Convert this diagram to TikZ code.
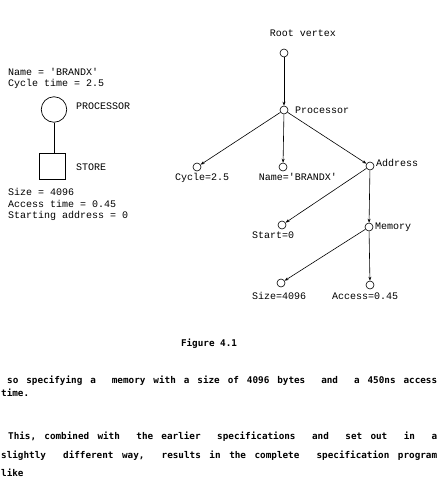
\documentclass[tikz,border=0pt]{standalone}
\usepackage{fontspec}
\setmainfont{Liberation Mono}
\newfontfamily\printfont{DejaVu Sans Mono}
\usetikzlibrary{arrows.meta}
\tikzset{
  tw/.style={font=\fontsize{10}{12}\selectfont, inner sep=0pt},
  vtx/.style={circle, draw, line width=0.6pt, minimum size=8pt, inner sep=0pt},
  edge/.style={line width=0.6pt, -{Stealth[length=4pt,width=3pt]}},
  prt/.style={font=\printfont\bfseries\fontsize{9.3}{10}\selectfont, inner sep=0pt, anchor=west},
}
\begin{document}
\begin{tikzpicture}[x=1pt,y=-1pt]
\useasboundingbox (0,0) rectangle (445,482);
% left diagram
\node[tw, anchor=west] (n1) at (8,72) {Name = \textquotesingle BRANDX\textquotesingle};
\node[tw, anchor=west] (n2) at (8,84) {Cycle time = 2.5};
\node[circle, draw, line width=0.7pt, minimum size=25.5pt, inner sep=0pt] (P) at (54,109.5) {};
\node[tw, anchor=west] (pl) at (76,106) {PROCESSOR};
\node[draw, line width=0.7pt, minimum size=25.5pt, inner sep=0pt] (S) at (52.5,166.5) {};
\node[tw, anchor=west] (sl) at (76,167) {STORE};
\draw[line width=0.7pt] (P.south) -- (P.south |- S.north);
\node[tw, anchor=west] (s1) at (8,192) {Size = 4096};
\node[tw, anchor=west] (s2) at (8,204) {Access time = 0.45};
\node[tw, anchor=west] (s3) at (8,216) {Starting address = 0};
% tree
\node[tw] (rl) at (303,33) {Root vertex};
\node[vtx] (R) at (284,53) {};
\node[vtx] (Pr) at (284,110) {};
\node[tw, anchor=west] at (295,110) {Processor};
\node[vtx] (C) at (197,167) {};
\node[tw, anchor=west] at (175,177.5) {Cycle=2.5};
\node[vtx] (N) at (283,167) {};
\node[tw] at (298,177) {Name=\textquotesingle BRANDX\textquotesingle};
\node[vtx] (A) at (370,166) {};
\node[tw, anchor=west] at (376,163) {Address};
\node[vtx] (St) at (282,225) {};
\node[tw, anchor=west] at (252,235.5) {Start=0};
\node[vtx] (M) at (369,227) {};
\node[tw, anchor=west] at (375,227.5) {Memory};
\node[vtx] (Sz) at (281,283) {};
\node[tw, anchor=west] at (252,296) {Size=4096};
\node[vtx] (Ac) at (370,285) {};
\node[tw, anchor=west] at (332,296) {Access=0.45};
\draw[edge] (R) -- (Pr);
\draw[edge] (Pr) -- (C);
\draw[edge] (Pr) -- (N);
\draw[edge] (Pr) -- (A);
\draw[edge] (A) -- (St);
\draw[edge] (A) -- (M);
\draw[edge] (M) -- (Sz);
\draw[edge] (M) -- (Ac);
% caption and text
\node[prt, anchor=center] (fig) at (209,344) {Figure 4.1};
\node[prt] (t1) at (7,381) {\hbox to 430pt{so\hfill specifying\hfill a\hfill\hfill memory\hfill with\hfill a\hfill size\hfill of\hfill 4096\hfill bytes\hfill\hfill and\hfill\hfill a\hfill 450ns\hfill access}};
\node[prt] (t2) at (1,393) {time.};
\node[prt] (t3) at (8,437) {\hbox to 429pt{This,\hfill combined\hfill with\hfill\hfill the\hfill earlier\hfill\hfill specifications\hfill\hfill and\hfill\hfill set\hfill out\hfill\hfill in\hfill\hfill a}};
\node[prt] (t4) at (1,456) {\hbox to 436pt{slightly\hfill\hfill different\hfill way,\hfill\hfill results\hfill in\hfill the\hfill complete\hfill\hfill specification\hfill program}};
\node[prt] (t5) at (1,473) {like};
\end{tikzpicture}
\end{document}
